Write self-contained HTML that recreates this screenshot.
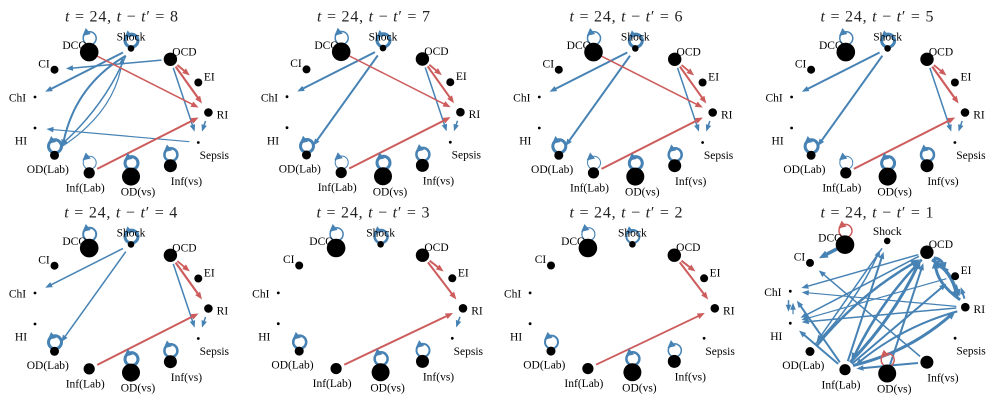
<!DOCTYPE html>
<html><head><meta charset="utf-8"><style>
html,body{margin:0;padding:0;background:#fff;}
svg{display:block;}
.lbl text{font-family:"Liberation Serif",serif;font-size:11.5px;fill:#000;text-anchor:middle;}
.ttl{font-family:"Liberation Serif",serif;font-size:16px;fill:#222;text-anchor:middle;}
.b{fill:none;stroke:#4682b4;marker-end:url(#mb);}
.bL{fill:none;stroke:#4682b4;marker-end:url(#mB);}
.r{fill:none;stroke:#cd5c5c;marker-end:url(#mr);}
.lp circle{fill:none;stroke:#4682b4;}
.lp path{fill:#4682b4;stroke:#4682b4;stroke-width:0.8;}
.lr circle{fill:none;stroke:#cd5c5c;}
.lr path{fill:#cd5c5c;stroke:#cd5c5c;stroke-width:0.8;}
.nd circle{fill:#000;}
</style></head><body>
<svg width="997" height="405" viewBox="0 0 997 405" xmlns="http://www.w3.org/2000/svg">
<defs>
<marker id="mb" markerUnits="userSpaceOnUse" markerWidth="10" markerHeight="10" refX="3.5" refY="0" orient="auto" style="overflow:visible"><path d="M0,-2.8L7,0L0,2.8z" fill="#4682b4"/></marker>
<marker id="mB" markerUnits="userSpaceOnUse" markerWidth="10" markerHeight="10" refX="4" refY="0" orient="auto" style="overflow:visible"><path d="M0,-3.8L9,0L0,3.8z" fill="#4682b4"/></marker>
<marker id="mr" markerUnits="userSpaceOnUse" markerWidth="10" markerHeight="10" refX="3.5" refY="0" orient="auto" style="overflow:visible"><path d="M0,-3L7.5,0L0,3z" fill="#cd5c5c"/></marker>
</defs>
<rect width="997" height="405" fill="#fff"/>

<!-- Titles -->
<text class="ttl" x="121.5" y="21.5" textLength="113"><tspan font-style="italic">t</tspan> = 24, <tspan font-style="italic">t</tspan> − <tspan font-style="italic">t</tspan>′ = 8</text>
<text class="ttl" x="373.5" y="21.5" textLength="113"><tspan font-style="italic">t</tspan> = 24, <tspan font-style="italic">t</tspan> − <tspan font-style="italic">t</tspan>′ = 7</text>
<text class="ttl" x="626" y="21.5" textLength="113"><tspan font-style="italic">t</tspan> = 24, <tspan font-style="italic">t</tspan> − <tspan font-style="italic">t</tspan>′ = 6</text>
<text class="ttl" x="877" y="21.5" textLength="113"><tspan font-style="italic">t</tspan> = 24, <tspan font-style="italic">t</tspan> − <tspan font-style="italic">t</tspan>′ = 5</text>
<text class="ttl" x="120.8" y="217.5" textLength="113"><tspan font-style="italic">t</tspan> = 24, <tspan font-style="italic">t</tspan> − <tspan font-style="italic">t</tspan>′ = 4</text>
<text class="ttl" x="373" y="217.5" textLength="113"><tspan font-style="italic">t</tspan> = 24, <tspan font-style="italic">t</tspan> − <tspan font-style="italic">t</tspan>′ = 3</text>
<text class="ttl" x="626" y="217.5" textLength="113"><tspan font-style="italic">t</tspan> = 24, <tspan font-style="italic">t</tspan> − <tspan font-style="italic">t</tspan>′ = 2</text>
<text class="ttl" x="877" y="217.5" textLength="113"><tspan font-style="italic">t</tspan> = 24, <tspan font-style="italic">t</tspan> − <tspan font-style="italic">t</tspan>′ = 1</text>

<!-- ============ PANEL 1 ============ -->
<g transform="translate(120.4,112.5)">
<path class="b" stroke-width="1.5" d="M41.04,-52.4L-50.96,-44.14"/>
<path class="b" stroke-width="2" d="M2.57,-60.03L-72.02,-22.28"/>
<path class="b" stroke-width="2" d="M5.36,-56.78Q-45.4,-27.1 -57.17,30.6"/>
<path class="b" stroke-width="1.5" d="M5.36,-56.78Q-15,-8 -57.17,30.6"/>
<path class="b" stroke-width="1.2" d="M-60.66,35.48Q-5,0 1.87,-51.9"/>
<path class="b" stroke-width="1.5" d="M52.86,-44.67L73.13,15.78"/>
<path class="b" stroke-width="1.5" d="M85.13,8.53L82.69,15.78"/>
<path class="b" stroke-width="1.2" d="M68.94,29.2L-70.46,16.83"/>
<path class="r" stroke-width="1.5" d="M-23.17,-56.33L74.62,-6.78"/>
<path class="r" stroke-width="2" d="M56.92,-47.45L66.37,-39.59"/>
<path class="r" stroke-width="2.2" d="M55.23,-45.88L79.28,-12.21"/>
<path class="r" stroke-width="2" d="M-23.17,56.33L74.62,6.78"/>
<g class="lp" transform="translate(-30.7,-74.2)"><circle r="6.5" stroke-width="1.5"/><path d="M-6.63,-2.92L0.33,-4.59L-3.79,-9.49Z"/></g>
<g class="lp" transform="translate(11.1,-71.9)"><circle r="6.5" stroke-width="3"/><path d="M-6.63,-2.92L0.33,-4.59L-3.79,-9.49Z"/></g>
<g class="lp" transform="translate(-65.4,33.8)"><circle r="6.5" stroke-width="3"/><path d="M-6.63,-2.92L0.33,-4.59L-3.79,-9.49Z"/></g>
<g class="lp" transform="translate(-30.7,50.3)"><circle r="6.5" stroke-width="1"/><path d="M-6.63,-2.92L0.33,-4.59L-3.79,-9.49Z"/></g>
<g class="lp" transform="translate(11.1,50.6)"><circle r="6.5" stroke-width="3"/><path d="M-6.63,-2.92L0.33,-4.59L-3.79,-9.49Z"/></g>
<g class="lp" transform="translate(50.5,42.2)"><circle r="6.5" stroke-width="2.5"/><path d="M-6.63,-2.92L0.33,-4.59L-3.79,-9.49Z"/></g>
<g class="lbl"><text x="102" y="6">RI</text><text x="88.9" y="-32">EI</text><text x="64" y="-57.2">OCD</text><text x="10.6" y="-71.8">Shock</text><text x="-45.9" y="-63.4">DCO</text><text x="-76.4" y="-45.2">CI</text><text x="-102.9" y="-10.8">ChI</text><text x="-99.4" y="32.2">HI</text><text x="-72.6" y="60.3">OD(Lab)</text><text x="-35.2" y="79">Inf(Lab)</text><text x="17.6" y="83.1">OD(vs)</text><text x="66" y="72.5">Inf(vs)</text><text x="93.9" y="46.5">Sepsis</text></g>
<g class="nd"><circle cx="88" cy="0" r="4.3"/><circle cx="77.9" cy="-30" r="4"/><circle cx="50" cy="-53.2" r="6.7"/><circle cx="10.6" cy="-64.1" r="3.3"/><circle cx="-31.2" cy="-60.4" r="9.3"/><circle cx="-65.9" cy="-42.8" r="4"/><circle cx="-85.4" cy="-15.5" r="1.4"/><circle cx="-85.4" cy="15.5" r="1.4"/><circle cx="-65.9" cy="42.8" r="4.5"/><circle cx="-31.2" cy="60.4" r="5.6"/><circle cx="10.6" cy="64.1" r="9"/><circle cx="50" cy="53.2" r="6.5"/><circle cx="77.9" cy="30" r="1.4"/></g>
</g>

<!-- ============ PANEL 2 ============ -->
<g transform="translate(372.4,112.2)">
<path class="b" stroke-width="2" d="M2.57,-60.03L-72.02,-22.28"/>
<path class="b" stroke-width="2" d="M5.36,-56.78L-57.17,30.6"/>
<path class="b" stroke-width="1.5" d="M52.86,-44.67L73.13,15.78"/>
<path class="b" stroke-width="1.5" d="M85.13,8.53L82.69,15.78"/>
<path class="r" stroke-width="1.5" d="M-23.17,-56.33L74.62,-6.78"/>
<path class="r" stroke-width="1.8" d="M56.92,-47.45L66.37,-39.59"/>
<path class="r" stroke-width="2" d="M55.23,-45.88L79.28,-12.21"/>
<path class="r" stroke-width="2" d="M-23.17,56.33L74.62,6.78"/>
<g class="lp" transform="translate(-30.7,-74.2)"><circle r="6.5" stroke-width="1.5"/><path d="M-6.63,-2.92L0.33,-4.59L-3.79,-9.49Z"/></g>
<g class="lp" transform="translate(11.1,-71.9)"><circle r="6.5" stroke-width="3"/><path d="M-6.63,-2.92L0.33,-4.59L-3.79,-9.49Z"/></g>
<g class="lp" transform="translate(-65.4,33.8)"><circle r="6.5" stroke-width="3"/><path d="M-6.63,-2.92L0.33,-4.59L-3.79,-9.49Z"/></g>
<g class="lp" transform="translate(-30.7,50.3)"><circle r="6.5" stroke-width="1"/><path d="M-6.63,-2.92L0.33,-4.59L-3.79,-9.49Z"/></g>
<g class="lp" transform="translate(11.1,50.6)"><circle r="6.5" stroke-width="3"/><path d="M-6.63,-2.92L0.33,-4.59L-3.79,-9.49Z"/></g>
<g class="lp" transform="translate(50.5,42.2)"><circle r="6.5" stroke-width="2.5"/><path d="M-6.63,-2.92L0.33,-4.59L-3.79,-9.49Z"/></g>
<g class="lbl"><text x="102" y="6">RI</text><text x="88.9" y="-32">EI</text><text x="64" y="-57.2">OCD</text><text x="10.6" y="-71.8">Shock</text><text x="-45.9" y="-63.4">DCO</text><text x="-76.4" y="-45.2">CI</text><text x="-102.9" y="-10.8">ChI</text><text x="-99.4" y="32.2">HI</text><text x="-72.6" y="60.3">OD(Lab)</text><text x="-35.2" y="79">Inf(Lab)</text><text x="17.6" y="83.1">OD(vs)</text><text x="66" y="72.5">Inf(vs)</text><text x="93.9" y="46.5">Sepsis</text></g>
<g class="nd"><circle cx="88" cy="0" r="4.3"/><circle cx="77.9" cy="-30" r="4"/><circle cx="50" cy="-53.2" r="6.7"/><circle cx="10.6" cy="-64.1" r="3.3"/><circle cx="-31.2" cy="-60.4" r="9.3"/><circle cx="-65.9" cy="-42.8" r="4"/><circle cx="-85.4" cy="-15.5" r="1.4"/><circle cx="-85.4" cy="15.5" r="1.4"/><circle cx="-65.9" cy="42.8" r="4.5"/><circle cx="-31.2" cy="60.4" r="5.6"/><circle cx="10.6" cy="64.1" r="9"/><circle cx="50" cy="53.2" r="6.5"/><circle cx="77.9" cy="30" r="1.4"/></g>
</g>

<!-- ============ PANEL 3 ============ -->
<g transform="translate(624.7,112.5)">
<path class="b" stroke-width="2" d="M2.57,-60.03L-72.02,-22.28"/>
<path class="b" stroke-width="2" d="M5.36,-56.78L-57.17,30.6"/>
<path class="b" stroke-width="1.5" d="M52.86,-44.67L73.13,15.78"/>
<path class="b" stroke-width="1.5" d="M85.13,8.53L82.69,15.78"/>
<path class="r" stroke-width="1.5" d="M-23.17,-56.33L74.62,-6.78"/>
<path class="r" stroke-width="1.8" d="M56.92,-47.45L66.37,-39.59"/>
<path class="r" stroke-width="2" d="M55.23,-45.88L79.28,-12.21"/>
<path class="r" stroke-width="2" d="M-23.17,56.33L74.62,6.78"/>
<g class="lp" transform="translate(-30.7,-74.2)"><circle r="6.5" stroke-width="1.5"/><path d="M-6.63,-2.92L0.33,-4.59L-3.79,-9.49Z"/></g>
<g class="lp" transform="translate(11.1,-71.9)"><circle r="6.5" stroke-width="3"/><path d="M-6.63,-2.92L0.33,-4.59L-3.79,-9.49Z"/></g>
<g class="lp" transform="translate(-65.4,33.8)"><circle r="6.5" stroke-width="3"/><path d="M-6.63,-2.92L0.33,-4.59L-3.79,-9.49Z"/></g>
<g class="lp" transform="translate(-30.7,50.3)"><circle r="6.5" stroke-width="1"/><path d="M-6.63,-2.92L0.33,-4.59L-3.79,-9.49Z"/></g>
<g class="lp" transform="translate(11.1,50.6)"><circle r="6.5" stroke-width="3"/><path d="M-6.63,-2.92L0.33,-4.59L-3.79,-9.49Z"/></g>
<g class="lp" transform="translate(50.5,42.2)"><circle r="6.5" stroke-width="2.5"/><path d="M-6.63,-2.92L0.33,-4.59L-3.79,-9.49Z"/></g>
<g class="lbl"><text x="102" y="6">RI</text><text x="88.9" y="-32">EI</text><text x="64" y="-57.2">OCD</text><text x="10.6" y="-71.8">Shock</text><text x="-45.9" y="-63.4">DCO</text><text x="-76.4" y="-45.2">CI</text><text x="-102.9" y="-10.8">ChI</text><text x="-99.4" y="32.2">HI</text><text x="-72.6" y="60.3">OD(Lab)</text><text x="-35.2" y="79">Inf(Lab)</text><text x="17.6" y="83.1">OD(vs)</text><text x="66" y="72.5">Inf(vs)</text><text x="93.9" y="46.5">Sepsis</text></g>
<g class="nd"><circle cx="88" cy="0" r="4.3"/><circle cx="77.9" cy="-30" r="4"/><circle cx="50" cy="-53.2" r="6.7"/><circle cx="10.6" cy="-64.1" r="3.3"/><circle cx="-31.2" cy="-60.4" r="9.3"/><circle cx="-65.9" cy="-42.8" r="4"/><circle cx="-85.4" cy="-15.5" r="1.4"/><circle cx="-85.4" cy="15.5" r="1.4"/><circle cx="-65.9" cy="42.8" r="4.5"/><circle cx="-31.2" cy="60.4" r="5.6"/><circle cx="10.6" cy="64.1" r="9"/><circle cx="50" cy="53.2" r="6.5"/><circle cx="77.9" cy="30" r="1.4"/></g>
</g>

<!-- ============ PANEL 4 ============ -->
<g transform="translate(877,112.5)">
<path class="b" stroke-width="2" d="M2.57,-60.03L-72.02,-22.28"/>
<path class="b" stroke-width="2" d="M5.36,-56.78L-57.17,30.6"/>
<path class="b" stroke-width="1.5" d="M52.86,-44.67L73.13,15.78"/>
<path class="b" stroke-width="1.5" d="M85.13,8.53L82.69,15.78"/>
<path class="r" stroke-width="1.8" d="M56.92,-47.45L66.37,-39.59"/>
<path class="r" stroke-width="2.2" d="M55.23,-45.88L79.28,-12.21"/>
<path class="r" stroke-width="2" d="M-23.17,56.33L74.62,6.78"/>
<g class="lp" transform="translate(-30.7,-74.2)"><circle r="6.5" stroke-width="1.5"/><path d="M-6.63,-2.92L0.33,-4.59L-3.79,-9.49Z"/></g>
<g class="lp" transform="translate(11.1,-71.9)"><circle r="6.5" stroke-width="3"/><path d="M-6.63,-2.92L0.33,-4.59L-3.79,-9.49Z"/></g>
<g class="lp" transform="translate(-65.4,33.8)"><circle r="6.5" stroke-width="3"/><path d="M-6.63,-2.92L0.33,-4.59L-3.79,-9.49Z"/></g>
<g class="lp" transform="translate(-30.7,50.3)"><circle r="6.5" stroke-width="1"/><path d="M-6.63,-2.92L0.33,-4.59L-3.79,-9.49Z"/></g>
<g class="lp" transform="translate(11.1,50.6)"><circle r="6.5" stroke-width="3"/><path d="M-6.63,-2.92L0.33,-4.59L-3.79,-9.49Z"/></g>
<g class="lp" transform="translate(50.5,42.2)"><circle r="6.5" stroke-width="2.5"/><path d="M-6.63,-2.92L0.33,-4.59L-3.79,-9.49Z"/></g>
<g class="lbl"><text x="102" y="6">RI</text><text x="88.9" y="-32">EI</text><text x="64" y="-57.2">OCD</text><text x="10.6" y="-71.8">Shock</text><text x="-45.9" y="-63.4">DCO</text><text x="-76.4" y="-45.2">CI</text><text x="-102.9" y="-10.8">ChI</text><text x="-99.4" y="32.2">HI</text><text x="-72.6" y="60.3">OD(Lab)</text><text x="-35.2" y="79">Inf(Lab)</text><text x="17.6" y="83.1">OD(vs)</text><text x="66" y="72.5">Inf(vs)</text><text x="93.9" y="46.5">Sepsis</text></g>
<g class="nd"><circle cx="88" cy="0" r="4.3"/><circle cx="77.9" cy="-30" r="4"/><circle cx="50" cy="-53.2" r="6.7"/><circle cx="10.6" cy="-64.1" r="3.3"/><circle cx="-31.2" cy="-60.4" r="9.3"/><circle cx="-65.9" cy="-42.8" r="4"/><circle cx="-85.4" cy="-15.5" r="1.4"/><circle cx="-85.4" cy="15.5" r="1.4"/><circle cx="-65.9" cy="42.8" r="4.5"/><circle cx="-31.2" cy="60.4" r="5.6"/><circle cx="10.6" cy="64.1" r="9"/><circle cx="50" cy="53.2" r="6.5"/><circle cx="77.9" cy="30" r="1.4"/></g>
</g>

<!-- ============ PANEL 5 ============ -->
<g transform="translate(120.4,308.5)">
<path class="b" stroke-width="1.5" d="M2.57,-60.03L-72.02,-22.28"/>
<path class="b" stroke-width="1.5" d="M5.36,-56.78L-57.17,30.6"/>
<path class="b" stroke-width="1.5" d="M52.86,-44.67L73.13,15.78"/>
<path class="b" stroke-width="1.5" d="M85.13,8.53L82.69,15.78"/>
<path class="r" stroke-width="1.8" d="M56.92,-47.45L66.37,-39.59"/>
<path class="r" stroke-width="2.2" d="M55.23,-45.88L79.28,-12.21"/>
<path class="r" stroke-width="2" d="M-23.17,56.33L74.62,6.78"/>
<g class="lp" transform="translate(-30.7,-74.2)"><circle r="6.5" stroke-width="2"/><path d="M-6.63,-2.92L0.33,-4.59L-3.79,-9.49Z"/></g>
<g class="lp" transform="translate(11.1,-71.9)"><circle r="6.5" stroke-width="3"/><path d="M-6.63,-2.92L0.33,-4.59L-3.79,-9.49Z"/></g>
<g class="lp" transform="translate(-65.4,33.8)"><circle r="6.5" stroke-width="3"/><path d="M-6.63,-2.92L0.33,-4.59L-3.79,-9.49Z"/></g>
<g class="lp" transform="translate(11.1,50.6)"><circle r="6.5" stroke-width="3"/><path d="M-6.63,-2.92L0.33,-4.59L-3.79,-9.49Z"/></g>
<g class="lp" transform="translate(50.5,42.2)"><circle r="6.5" stroke-width="2.5"/><path d="M-6.63,-2.92L0.33,-4.59L-3.79,-9.49Z"/></g>
<g class="lbl"><text x="102" y="6">RI</text><text x="88.9" y="-32">EI</text><text x="64" y="-57.2">OCD</text><text x="10.6" y="-71.8">Shock</text><text x="-45.9" y="-63.4">DCO</text><text x="-76.4" y="-45.2">CI</text><text x="-102.9" y="-10.8">ChI</text><text x="-99.4" y="32.2">HI</text><text x="-72.6" y="60.3">OD(Lab)</text><text x="-35.2" y="79">Inf(Lab)</text><text x="17.6" y="83.1">OD(vs)</text><text x="66" y="72.5">Inf(vs)</text><text x="93.9" y="46.5">Sepsis</text></g>
<g class="nd"><circle cx="88" cy="0" r="4.3"/><circle cx="77.9" cy="-30" r="4"/><circle cx="50" cy="-53.2" r="6.7"/><circle cx="10.6" cy="-64.1" r="3.3"/><circle cx="-31.2" cy="-60.4" r="9.3"/><circle cx="-65.9" cy="-42.8" r="4"/><circle cx="-85.4" cy="-15.5" r="1.4"/><circle cx="-85.4" cy="15.5" r="1.4"/><circle cx="-65.9" cy="42.8" r="4.5"/><circle cx="-31.2" cy="60.4" r="5.6"/><circle cx="10.6" cy="64.1" r="9"/><circle cx="50" cy="53.2" r="6.5"/><circle cx="77.9" cy="30" r="1.4"/></g>
</g>

<!-- ============ PANEL 6 ============ -->
<g transform="translate(369.3,308.3)">
<path class="r" stroke-width="2" d="M60.31,-47.59L71.14,-39.19"/>
<path class="r" stroke-width="2" d="M58.66,-45.94L84.6,-11.93"/>
<path class="r" stroke-width="2" d="M-25.07,56.44L80.15,6.44"/>
<path class="b" stroke-width="1.5" d="M90.68,8.48L88.04,15.87"/>
<g class="lp" transform="translate(-32.7,-74.1)"><circle r="6.5" stroke-width="1.5"/><path d="M-6.63,-2.92L0.33,-4.59L-3.79,-9.49Z"/></g>
<g class="lp" transform="translate(11.8,-71.8)"><circle r="6.5" stroke-width="2.5"/><path d="M-6.63,-2.92L0.33,-4.59L-3.79,-9.49Z"/></g>
<g class="lp" transform="translate(-69.6,33.8)"><circle r="6.5" stroke-width="2.5"/><path d="M-6.63,-2.92L0.33,-4.59L-3.79,-9.49Z"/></g>
<g class="lp" transform="translate(11.8,50.5)"><circle r="6.5" stroke-width="2.5"/><path d="M-6.63,-2.92L0.33,-4.59L-3.79,-9.49Z"/></g>
<g class="lp" transform="translate(53.7,42.1)"><circle r="6.5" stroke-width="2"/><path d="M-6.63,-2.92L0.33,-4.59L-3.79,-9.49Z"/></g>
<g class="lbl"><text x="107.7" y="6">RI</text><text x="94" y="-32">EI</text><text x="67.2" y="-57.1">OCD</text><text x="11.3" y="-71.7">Shock</text><text x="-47.9" y="-63.3">DCO</text><text x="-80.6" y="-45.2">CI</text><text x="-108.5" y="-10.7">ChI</text><text x="-105" y="32.1">HI</text><text x="-76.8" y="60.3">OD(Lab)</text><text x="-37.2" y="78.9">Inf(Lab)</text><text x="18.3" y="83">OD(vs)</text><text x="69.2" y="72.4">Inf(vs)</text><text x="99" y="46.5">Sepsis</text></g>
<g class="nd"><circle cx="93.7" cy="0" r="4.3"/><circle cx="83" cy="-30" r="4"/><circle cx="53.2" cy="-53.1" r="6.7"/><circle cx="11.3" cy="-64" r="3.3"/><circle cx="-33.2" cy="-60.3" r="9.3"/><circle cx="-70.1" cy="-42.8" r="4"/><circle cx="-91" cy="-15.4" r="1.4"/><circle cx="-91" cy="15.4" r="1.4"/><circle cx="-70.1" cy="42.8" r="4.5"/><circle cx="-33.2" cy="60.3" r="5.6"/><circle cx="11.3" cy="64" r="9"/><circle cx="53.2" cy="53.1" r="6.5"/><circle cx="83" cy="30" r="1.4"/></g>
</g>

<!-- ============ PANEL 7 ============ -->
<g transform="translate(621.1,308.3)">
<path class="r" stroke-width="2" d="M60.31,-47.59L71.14,-39.19"/>
<path class="r" stroke-width="2" d="M58.66,-45.94L84.6,-11.93"/>
<path class="r" stroke-width="1.8" d="M-25.07,56.44L80.15,6.44"/>
<g class="lp" transform="translate(-32.7,-74.1)"><circle r="6.5" stroke-width="1.2"/><path d="M-6.63,-2.92L0.33,-4.59L-3.79,-9.49Z"/></g>
<g class="lp" transform="translate(11.8,-71.8)"><circle r="6.5" stroke-width="2"/><path d="M-6.63,-2.92L0.33,-4.59L-3.79,-9.49Z"/></g>
<g class="lp" transform="translate(-69.6,33.8)"><circle r="6.5" stroke-width="2"/><path d="M-6.63,-2.92L0.33,-4.59L-3.79,-9.49Z"/></g>
<g class="lp" transform="translate(11.8,50.5)"><circle r="6.5" stroke-width="2.5"/><path d="M-6.63,-2.92L0.33,-4.59L-3.79,-9.49Z"/></g>
<g class="lp" transform="translate(53.7,42.1)"><circle r="6.5" stroke-width="1.5"/><path d="M-6.63,-2.92L0.33,-4.59L-3.79,-9.49Z"/></g>
<g class="lbl"><text x="107.7" y="6">RI</text><text x="94" y="-32">EI</text><text x="67.2" y="-57.1">OCD</text><text x="11.3" y="-71.7">Shock</text><text x="-47.9" y="-63.3">DCO</text><text x="-80.6" y="-45.2">CI</text><text x="-108.5" y="-10.7">ChI</text><text x="-105" y="32.1">HI</text><text x="-76.8" y="60.3">OD(Lab)</text><text x="-37.2" y="78.9">Inf(Lab)</text><text x="18.3" y="83">OD(vs)</text><text x="69.2" y="72.4">Inf(vs)</text><text x="99" y="46.5">Sepsis</text></g>
<g class="nd"><circle cx="93.7" cy="0" r="4.3"/><circle cx="83" cy="-30" r="4"/><circle cx="53.2" cy="-53.1" r="6.7"/><circle cx="11.3" cy="-64" r="3.3"/><circle cx="-33.2" cy="-60.3" r="9.3"/><circle cx="-70.1" cy="-42.8" r="4"/><circle cx="-91" cy="-15.4" r="1.4"/><circle cx="-91" cy="15.4" r="1.4"/><circle cx="-70.1" cy="42.8" r="4.5"/><circle cx="-33.2" cy="60.3" r="5.6"/><circle cx="11.3" cy="64" r="9"/><circle cx="53.2" cy="53.1" r="6.5"/><circle cx="83" cy="30" r="1.4"/></g>
</g>

<!-- ============ PANEL 8 ============ -->
<g transform="translate(876.5,307.2)">
<path class="bL" stroke-width="3.5" d="M-39.48,-58.35L-53.19,-51.22"/>
<path class="b" stroke-width="2" d="M-28.7,53.94L6.03,-52.04"/>
<path class="bL" stroke-width="3" d="M-26.35,55.12Q15.9,11.9 41.82,-42.69"/>
<path class="bL" stroke-width="2.5" d="M-59.64,38.47Q-18.1,-12.5 38.97,-45.29"/>
<path class="b" stroke-width="1.5" d="M41.75,-52.53L-71.78,-20.12"/>
<path class="b" stroke-width="1.5" d="M42.41,-50.85L-72.89,9.08"/>
<path class="bL" stroke-width="2.5" d="M45.25,-47.62Q3,-4.4 -22.92,50.19"/>
<path class="b" stroke-width="1.5" d="M79.84,0.82L-71.26,14.63"/>
<path class="b" stroke-width="1.2" d="M79.84,-0.82L-71.26,-14.63"/>
<path class="b" stroke-width="1.2" d="M69.95,-28.53L-71.78,11.89"/>
<path class="b" stroke-width="1.5" d="M43.54,49.17L-55.07,-34.59"/>
<path class="b" stroke-width="2" d="M-36.65,55.12L-77.62,-3.69"/>
<path class="bL" stroke-width="3" d="M-23.51,58.35Q32.5,45 75.49,6.92"/>
<path class="b" stroke-width="2" d="M-24.64,56.67L67.16,-21.29"/>
<path class="bL" stroke-width="3.5" d="M55.55,-47.62Q76.1,-35.7 80.21,-12.3"/>
<path class="bL" stroke-width="3" d="M83.65,-7.38Q59.7,-24.3 58.99,-42.7"/>
<path class="bL" stroke-width="3" d="M57.25,-49.17Q65.4,-48.7 67.18,-40.72"/>
<path class="b" stroke-width="2.5" d="M71.75,-36.83Q59,-41.1 61.82,-45.28"/>
<path class="b" stroke-width="2" d="M79.4,-22.45L82.1,-14.25"/>
<path class="b" stroke-width="2" d="M88,-8.55L85.3,-16.75"/>
<path class="b" stroke-width="1.5" d="M-88,-7L-88,1"/>
<path class="b" stroke-width="1.2" d="M-83.5,7L-83.5,-1"/>
<path class="b" stroke-width="2" d="M-38.36,56.67L-74.77,25.72"/>
<path class="b" stroke-width="1.5" d="M5.55,-58.92L-57.91,32"/>
<path class="b" stroke-width="2" d="M13.5,57.75L45.73,-40.74"/>
<path class="b" stroke-width="2" d="M41.44,55.82L-16.56,61.13"/>
<path class="b" stroke-width="1.5" d="M-61.35,36.92Q-21.4,-2.8 2.11,-54"/>
<path class="b" stroke-width="2" d="M80.81,4.15Q25.8,19.3 -18.19,55.58"/>
<g class="lr" transform="translate(-31,-76.3)"><circle r="6.5" stroke-width="1.5"/><path d="M-6.63,-2.92L0.33,-4.59L-3.79,-9.49Z"/></g>
<g class="lr" transform="translate(11.2,52.8)"><circle r="6.5" stroke-width="1.5"/><path d="M-6.63,-2.92L0.33,-4.59L-3.79,-9.49Z"/></g>
<g class="lbl"><text x="102.8" y="6">RI</text><text x="89.6" y="-33">EI</text><text x="64.4" y="-59">OCD</text><text x="10.7" y="-72">Shock</text><text x="-46.2" y="-65.5">DCO</text><text x="-77" y="-46.7">CI</text><text x="-103.7" y="-11.3">ChI</text><text x="-100.2" y="32.7">HI</text><text x="-73.2" y="61.8">OD(Lab)</text><text x="-35.5" y="81.1">Inf(Lab)</text><text x="17.7" y="85.3">OD(vs)</text><text x="66.4" y="74.3">Inf(vs)</text><text x="94.6" y="47.5">Sepsis</text></g>
<g class="nd"><circle cx="88.8" cy="0" r="4.3"/><circle cx="78.6" cy="-31" r="4"/><circle cx="50.4" cy="-55" r="6.7"/><circle cx="10.7" cy="-66.3" r="3.3"/><circle cx="-31.5" cy="-62.5" r="9.3"/><circle cx="-66.5" cy="-44.3" r="4"/><circle cx="-86.2" cy="-16" r="1.4"/><circle cx="-86.2" cy="16" r="1.4"/><circle cx="-66.5" cy="44.3" r="4.5"/><circle cx="-31.5" cy="62.5" r="5.6"/><circle cx="10.7" cy="66.3" r="9"/><circle cx="50.4" cy="55" r="6.5"/><circle cx="78.6" cy="31" r="1.4"/></g>
</g>
</svg>
</body></html>
